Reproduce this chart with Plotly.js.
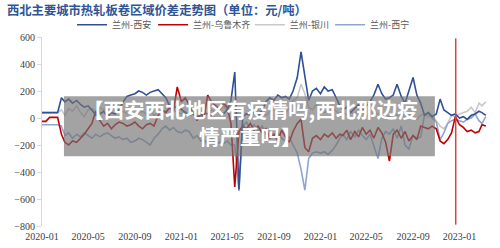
<!DOCTYPE html>
<html>
<head>
<meta charset="utf-8">
<script src="https://cdn.plot.ly/plotly-3.0.1.min.js"></script>
<style>html,body{margin:0;padding:0;background:#fff;}#chart{width:500px;height:248px;}</style>
</head>
<body>
<div id="chart"></div>
<script>
// Dates: 1st, 11th, 21st of each month, 2020-01 .. 2023-03-11
const dates = [];
(function(){
  for (let m = 0; m < 39; m++) {
    const y = 2020 + Math.floor(m / 12), mo = (m % 12) + 1;
    const mm = (mo < 10 ? '0' : '') + mo;
    ['01','11','21'].forEach(d => { if (!(m === 38 && d === '21')) dates.push(y + '-' + mm + '-' + d); });
  }
})();

const seriesNames = ['兰州-西安', '兰州-乌鲁木齐', '兰州-银川', '兰州-西宁'];

const lanzhouXian = [
  40,40,40, 40,40,150, 120,140,110, 130,100,80, 90,60,20, 30,50,10, 40,30,60, 120,160,170,
  180,200,190, 170,190,200, 210,180,150, 90,70,90,
  60,40,20, 30,10,20, 40,30,20, 40,50,30, 60,130,340, -530,10,30, 20,40,10, 60,120,150,
  130,170,150, 160,140,200, 300,490,300, 130,200,220,
  180,230,200, 210,150,90, 60,80,40, 70,100,60, 90,120,170, 250,180,140, 150,170,250,
  160,110,200, 300,170,110, 20,40,10, 30,140,60, 40,20,30,
  0,10,-10, 20,30,50, 40,20
];
const lanzhouUrumqi = [
  -25,-25,5, 5,5,-120, -180,-200,-170, -180,-150,-120, -80,-40,50, -20,-60,-40, -80,-50,-30, -40,-60,-50,
  -30,-60,-80, -50,-40,-60, 20,60,40, 80,50,230,
  120,150,100, 40,-20,30, 0,170,120, 90,60,110, 80,-40,-510, -100,-60,-80, -40,-90,-60, -110,-80,-150,
  -120,-170,-90, -140,-180,-100, -40,-10,-220, -250,-150,-130,
  -160,-120,-140, -110,-150,-120, -130,-90,-160, -100,-140,-70, -120,-90,-150, -70,-110,-180, -320,-120,-90,
  -150,-100,-170, -130,-160,-60, -70,-80,-60, -80,-170,-190, -160,-110,10,
  -50,-70,-100, -90,-110,-100, -50,-60
];
const lanzhouYinchuan = [
  40,40,40, 40,40,60, 20,70,50, 90,40,10, 60,70,50, 80,60,70, 40,30,60, 50,30,40,
  20,40,50, 30,50,20, 40,60,50, 70,60,40,
  30,50,20, 40,10,30, 50,30,60, 40,70,90, 60,100,80, 20,40,30, 50,40,60, 30,20,50,
  60,80,50, 40,70,130, 150,250,180, 80,60,100,
  70,40,60, 80,50,30, 50,20,40, 30,60,40, 20,10,40, 30,0,20, 10,30,20,
  30,0,20, 10,-10,20, 30,10,20, -20,-60,-80, -40,20,10,
  30,40,50, 80,40,110, 90,120
];
const lanzhouXining = [
  -50,-50,-50, -50,-50,-60, -130,-110,-150, -120,-140,-110, -130,-150,-120, -140,-120,-110, -130,-150,-140, -160,-150,-180,
  -170,-150,-160, -180,-200,-150, -120,-80,-60, -90,-70,-100,
  -110,-90,-100, -150,-130,-170, -160,-190,-150, -200,-180,-190, -170,-200,-200, -540,-60,-30, -80,-50,-100, -60,-120,-90,
  -130,-110,-150, -170,-140,-200, -260,-380,-535, -300,-260,-250,
  -260,-250,-270, -240,-200,-150, -120,-160,-100, -140,-90,-130, -160,-120,-200, -300,-150,-100, -120,-80,-150,
  -60,-200,-230, -130,-150,-140, 20,40,0, -30,-160,-110, -40,-20,-10,
  -20,-30,-10, 0,30,-20, -40,10
];

const seriesValues = [lanzhouXian, lanzhouUrumqi, lanzhouYinchuan, lanzhouXining];
const seriesColors = ['#2F4F96', '#C00000', '#C8C8C8', '#8EA6CF'];
const drawOrder = [2, 3, 1, 0];
const legendIds = ['legend', 'legend2', 'legend3', 'legend4'];
const legendX = [0.067, 0.248, 0.464, 0.643];

const xTickVals = ['2020-01-01','2020-05-01','2020-09-01','2021-01-01','2021-05-01','2021-09-01','2022-01-01','2022-05-01','2022-09-01','2023-01-01'];
const xTickText = ['2020-01','2020-05','2020-09','2021-01','2021-05','2021-09','2022-01','2022-05','2022-09','2023-01'];
const yTickVals = [600,400,200,0,-200,-400,-600,-800];
const markerDate = '2022-12-22';

const traces = [];
[0,1,2,3].forEach(i => {
  traces.push({
    type: 'scatter', mode: 'lines', x: dates, y: seriesValues[i], name: seriesNames[i],
    line: {color: seriesColors[i], width: 1.6}, legend: legendIds[i]
  });
});
const ordered = drawOrder.map(i => traces[i]);

const layout = {
  width: 500, height: 248,
  margin: {l: 42, r: 10, t: 31, b: 22},
  paper_bgcolor: '#fff', plot_bgcolor: '#fff',
  font: {family: 'Liberation Serif, serif', size: 10, color: '#595959'},
  title: {text: '<b>西北主要城市热轧板卷区域价差走势图（单位：元/吨）</b>', x: 0.014, xref: 'container', xanchor: 'left', y: 0.958, yref: 'container', yanchor: 'middle', font: {family: 'Noto Sans CJK SC', size: 12.3, color: '#2F5597'}},
  showlegend: true,
  xaxis: {type: 'date', range: ['2020-01-01', '2023-03-22'], tickvals: xTickVals, ticktext: xTickText, showgrid: false, zeroline: false, showline: false, ticks: '', ticklabelstandoff: 3, tickfont: {family: 'Liberation Serif, serif', size: 10, color: '#404040'}},
  yaxis: {range: [-800, 600], tickvals: yTickVals, showgrid: false, zeroline: false, showline: true, linecolor: '#D9D9D9', linewidth: 1, ticks: 'outside', ticklen: 4, tickcolor: '#D9D9D9', tickfont: {family: 'Liberation Serif, serif', size: 10, color: '#404040'}},
  shapes: [
    {type: 'line', xref: 'x', yref: 'y', x0: markerDate, x1: markerDate, y0: -790, y1: 590, line: {color: '#D64545', width: 1.5}},
    {type: 'rect', xref: 'paper', yref: 'paper', x0: 0.049, x1: 0.877, y0: 0.369, y1: 0.687, fillcolor: 'rgba(115,115,115,0.66)', line: {width: 0}, layer: 'above'}
  ],
  annotations: [
    {xref: 'paper', yref: 'paper', x: 0.465, y: 0.545, xanchor: 'center', yanchor: 'middle', showarrow: false, align: 'center',
     text: '<b>【西安西北地区有疫情吗,西北那边疫<br>情严重吗】</b>', font: {family: 'Noto Sans CJK SC', size: 20.5, color: '#FFFFFF'}}
  ]
};
legendIds.forEach((id, i) => {
  layout[id] = {orientation: 'h', x: legendX[i], xanchor: 'left', y: 1.065, yanchor: 'middle',
    font: {family: 'Noto Sans CJK SC', size: 9, color: '#595959'}, itemwidth: 30, bgcolor: 'rgba(0,0,0,0)'};
});

Plotly.newPlot('chart', ordered, layout, {displayModeBar: false, staticPlot: true});
</script>
</body>
</html>
